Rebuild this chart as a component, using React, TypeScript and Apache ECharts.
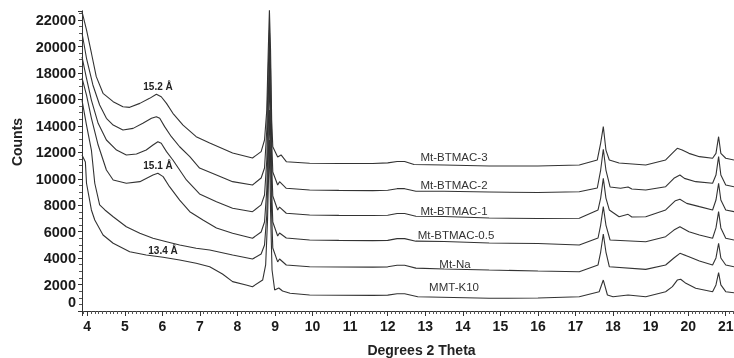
import React, { useEffect, useRef } from 'react';
import * as echarts from 'echarts';

const seriesNames = ['Mt-BTMAC-3', 'Mt-BTMAC-2', 'Mt-BTMAC-1', 'Mt-BTMAC-0.5', 'Mt-Na', 'MMT-K10'];

const btmac3: number[][] = [[3.86,22630],[3.98,21250],[4.11,19510],[4.24,17720],[4.42,16460],[4.69,15830],[4.95,15450],[5.13,15400],[5.40,15700],[5.66,16080],[5.84,16390],[5.97,16200],[6.11,15700],[6.28,14950],[6.55,14060],[6.90,13180],[7.26,12700],[7.87,11950],[8.40,11570],[8.63,12050],[8.72,12930],[8.78,15200],[8.82,19730],[8.85,22760],[8.88,19730],[8.91,14440],[8.94,12420],[9.07,11640],[9.16,11800],[9.30,11290],[9.92,11170],[10.72,11150],[11.6,11150],[12.0,11200],[12.25,11300],[12.45,11300],[12.7,11080],[13.5,11040],[14.7,10960],[16.0,10960],[17.1,11040],[17.58,11420],[17.67,12700],[17.74,13940],[17.81,12170],[17.9,11420],[18.16,11190],[18.87,11040],[19.40,11420],[19.62,12050],[19.71,12300],[19.84,12170],[20.02,11920],[20.3,11670],[20.65,11550],[20.74,11920],[20.81,13180],[20.87,11920],[21.0,11550],[21.22,11420]];

const btmac2: number[][] = [[3.86,21020],[3.98,19110],[4.15,17090],[4.33,15580],[4.51,14570],[4.69,14060],[4.95,13690],[5.22,13810],[5.48,14190],[5.71,14570],[5.84,14690],[5.93,14570],[6.06,13940],[6.24,13180],[6.46,12420],[6.73,11670],[6.99,10810],[7.44,10280],[7.87,9780],[8.40,9530],[8.63,10060],[8.72,10810],[8.78,13690],[8.82,18220],[8.85,21250],[8.88,18220],[8.91,12930],[8.94,10510],[9.07,9530],[9.12,9780],[9.30,9280],[9.92,9150],[10.7,9120],[11.6,9100],[12.0,9130],[12.25,9250],[12.45,9250],[12.75,9060],[13.5,9050],[14.7,9000],[16.0,8960],[17.1,9020],[17.58,9300],[17.67,10660],[17.74,12230],[17.81,10660],[17.92,9380],[18.2,9280],[18.4,9380],[18.5,9220],[18.87,9150],[19.4,9400],[19.62,10030],[19.78,10280],[19.9,10030],[20.2,9780],[20.65,9660],[20.74,10280],[20.81,11670],[20.87,10280],[21.0,9530],[21.22,9400]];

const btmac1: number[][] = [[3.86,19210],[3.98,17590],[4.11,15950],[4.29,14190],[4.51,12930],[4.78,12170],[5.04,11800],[5.31,11870],[5.57,12170],[5.75,12550],[5.88,12800],[5.97,12680],[6.11,12050],[6.28,11420],[6.64,9910],[6.99,8850],[7.44,8260],[7.87,7770],[8.40,7510],[8.63,8020],[8.72,8770],[8.78,11420],[8.82,15950],[8.85,19730],[8.88,15950],[8.91,11040],[8.94,8700],[9.07,7640],[9.12,7860],[9.30,7390],[9.92,7260],[10.7,7230],[11.6,7220],[12.0,7240],[12.25,7370],[12.45,7370],[12.75,7170],[13.5,7150],[14.7,7030],[16.0,6990],[17.1,7010],[17.6,7640],[17.67,8540],[17.74,10030],[17.81,8540],[17.9,7640],[18.16,7130],[18.4,7310],[18.5,7110],[18.87,7130],[19.4,7640],[19.66,8340],[19.78,8450],[19.96,8140],[20.3,7890],[20.65,7640],[20.74,8390],[20.81,9660],[20.87,8390],[21.0,7640],[21.22,7510]];

const btmac05: number[][] = [[3.86,17620],[3.98,16330],[4.11,14590],[4.29,12550],[4.51,10660],[4.69,9910],[5.04,9660],[5.40,9780],[5.75,10280],[5.88,10410],[6.02,10160],[6.19,9400],[6.46,8390],[6.73,7510],[7.08,6880],[7.44,6280],[7.87,5880],[8.40,5500],[8.63,5970],[8.72,6730],[8.78,9150],[8.82,13690],[8.85,17840],[8.88,13690],[8.91,9150],[8.94,6730],[9.07,5670],[9.12,5900],[9.30,5520],[9.92,5370],[10.7,5340],[11.6,5320],[12.0,5340],[12.25,5470],[12.45,5470],[12.75,5280],[13.5,5260],[14.7,5140],[16.0,5100],[17.1,4990],[17.6,5520],[17.67,6500],[17.74,7890],[17.81,6500],[17.92,5370],[18.87,5240],[19.4,5620],[19.62,6120],[19.78,6370],[20.02,6000],[20.3,5750],[20.65,5500],[20.74,6280],[20.81,7510],[20.87,6280],[21.0,5500],[21.22,5370]];

const mtNa: number[][] = [[3.86,15950],[3.98,14060],[4.11,12170],[4.2,9660],[4.33,8020],[4.47,7640],[4.69,7130],[5.04,6370],[5.40,5880],[5.75,5500],[6.11,5240],[6.46,4990],[6.90,4740],[7.26,4610],[7.87,4230],[8.40,3930],[8.63,4310],[8.72,4990],[8.78,7260],[8.82,11420],[8.85,15200],[8.88,11420],[8.91,7260],[8.94,4760],[9.07,3710],[9.12,3930],[9.30,3480],[9.92,3350],[10.7,3330],[11.6,3320],[12.0,3340],[12.25,3460],[12.45,3460],[12.75,3240],[13.5,3180],[14.7,3100],[16.0,3020],[17.1,2970],[17.6,3480],[17.67,4460],[17.74,5820],[17.81,4460],[17.9,3350],[18.87,3150],[19.4,3480],[19.62,4010],[19.78,4360],[20.02,4110],[20.3,3780],[20.65,3480],[20.74,4010],[20.81,5120],[20.87,4010],[21.0,3480],[21.22,3350]];

const mmtK10: number[][] = [[3.86,11800],[3.95,11270],[3.98,9660],[4.11,7640],[4.2,6880],[4.42,5750],[4.69,5120],[5.13,4480],[5.57,4230],[6.02,4060],[6.46,3860],[6.9,3610],[7.26,3350],[7.6,2800],[7.87,2220],[8.23,1970],[8.40,1840],[8.67,2340],[8.75,3480],[8.80,6880],[8.85,12930],[8.88,7640],[8.92,3100],[8.99,1590],[9.1,1740],[9.2,1510],[9.4,1340],[9.92,1210],[10.7,1190],[11.6,1180],[12.0,1200],[12.25,1300],[12.45,1300],[12.8,1080],[14.7,960],[16.0,980],[17.1,1080],[17.63,1460],[17.74,2340],[17.85,1210],[18.0,1080],[18.4,1210],[18.87,1080],[19.40,1460],[19.58,1840],[19.71,2340],[19.8,2400],[19.94,2090],[20.2,1720],[20.65,1460],[20.74,1970],[20.81,2900],[20.87,1970],[21.0,1460],[21.22,1380]];

const peakLabels = ['15.2 Å', '15.1 Å', '13.4 Å'];
const xTitle = 'Degrees 2 Theta';
const yTitle = 'Counts';

// layout (pixels)
const curveLabelPos = [[454, 157], [454, 184.5], [454, 210.5], [456, 235], [455, 263.5], [454, 287]];
const peakLabelPos = [[158, 86], [158, 165], [163, 250]];

export default function App() {
  const ref = useRef<HTMLDivElement>(null);
  useEffect(() => {
    if (!ref.current) return;
    const chart = echarts.init(ref.current, null, { renderer: 'svg' });
    const font = "'Liberation Sans', Arial, Helvetica, sans-serif";
    const allData = [btmac3, btmac2, btmac1, btmac05, mtNa, mmtK10];
    const graphics: any[] = [];
    seriesNames.forEach((n, i) => {
      graphics.push({
        type: 'text', x: curveLabelPos[i][0], y: curveLabelPos[i][1], z: 10,
        style: { text: n, fontSize: 11.5, fontFamily: font, fill: '#333', align: 'center', verticalAlign: 'middle' },
      });
    });
    peakLabels.forEach((t, i) => {
      graphics.push({
        type: 'text', x: peakLabelPos[i][0], y: peakLabelPos[i][1], z: 10,
        style: { text: t, fontSize: 10, fontWeight: 'bold', fontFamily: font, fill: '#222', align: 'center', verticalAlign: 'middle' },
      });
    });
    graphics.push({
      type: 'text', x: 17, y: 142, rotation: Math.PI / 2, z: 10,
      style: { text: yTitle, fontSize: 14, fontWeight: 'bold', fontFamily: font, fill: '#222', align: 'center', verticalAlign: 'middle' },
    });
    graphics.push({
      type: 'text', x: 421.5, y: 350, z: 10,
      style: { text: xTitle, fontSize: 14, fontWeight: 'bold', fontFamily: font, fill: '#222', align: 'center', verticalAlign: 'middle' },
    });

    chart.setOption({
      animation: false,
      grid: { left: 82, right: 0, top: 10.8, bottom: 47, outerBoundsMode: 'none', containLabel: false },
      xAxis: {
        type: 'value', min: 3.86, max: 21.22, splitNumber: 17, minInterval: 1, maxInterval: 1,
        axisLine: { show: true, lineStyle: { color: '#333', width: 1 } },
        axisTick: { show: true, length: 5, lineStyle: { color: '#333', width: 1 } },
        minorTick: { show: true, splitNumber: 10, length: 3, lineStyle: { color: '#555', width: 1 } },
        axisLabel: { showMinLabel: false, showMaxLabel: false, color: '#1a1a1a', fontSize: 14, fontWeight: 'bold', fontFamily: font, margin: 8 },
        splitLine: { show: false },
      },
      yAxis: {
        type: 'value', min: 0, max: 22700, splitNumber: 11, minInterval: 2000, maxInterval: 2000,
        axisLine: { show: true, lineStyle: { color: '#333', width: 1 } },
        axisTick: { show: true, length: 4, lineStyle: { color: '#333', width: 1 } },
        minorTick: { show: true, splitNumber: 4, length: 3, lineStyle: { color: '#555', width: 1 } },
        axisLabel: {
          showMaxLabel: false, color: '#1a1a1a', fontSize: 14.5, fontWeight: 'bold', fontFamily: font, margin: 6,
          formatter: (v: number) => (v === 0 ? '{z|0}' : String(v)),
          rich: { z: { fontSize: 14.5, fontWeight: 'bold', fontFamily: font, color: '#1a1a1a', padding: [0, 0, 19, 0] } },
        },
        splitLine: { show: false },
      },
      series: allData.map((d, i) => ({
        type: 'line', name: seriesNames[i], data: d, showSymbol: false, symbol: 'none', silent: true,
        lineStyle: { color: '#333', width: 1.1 },
      })),
      graphic: graphics,
    });
    return () => chart.dispose();
  }, []);
  return <div ref={ref} style={{ position: 'fixed', left: 0, top: 0, width: 734, height: 358 }} />;
}
